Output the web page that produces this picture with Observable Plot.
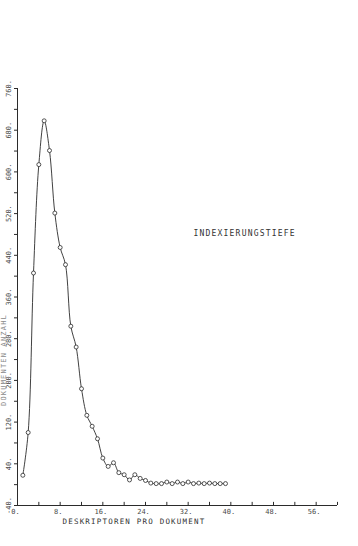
<!DOCTYPE html>
<html>
<head>
<meta charset="utf-8">
<script src="https://cdn.jsdelivr.net/npm/d3@7"></script>
<script src="https://cdn.jsdelivr.net/npm/@observablehq/plot@0.6"></script>
<style>
  html, body { margin: 0; padding: 0; background: #fff; }
  #chart svg { display: block; }
</style>
</head>
<body>
<div id="chart"></div>
<script>
// Deskriptoren pro Dokument (x) and Dokumenten-Anzahl (y)
const descriptors = d3.range(1, 40);
const documents = [18, 100, 406, 614, 698, 641, 521, 455, 422, 304,
                   264, 184, 133, 112, 88, 51, 35, 42, 23, 19,
                   9, 19, 12, 8, 3, 2, 2, 5, 2, 5,
                   2, 5, 2, 3, 2, 3, 2, 2, 2];
const xTickLabels = [0, 8, 16, 24, 32, 40, 48, 56];
const xTicksAll = d3.range(0, 61, 4);
const yTickLabels = [-40, 40, 120, 200, 280, 360, 440, 520, 600, 680, 760];
const yTicksAll = d3.range(-40, 761, 40);

const data = descriptors.map((d, i) => ({x: d, y: documents[i]}));
const ink = "#2b2b2b";
const textInk = "#4a4a4a";
const mono = "'DejaVu Sans Mono', 'Liberation Mono', monospace";

const chart = Plot.plot({
  width: 358,
  height: 546,
  marginLeft: 17,
  marginRight: 21,
  marginTop: 88,
  marginBottom: 41,
  style: {background: "#fff", fontFamily: mono},
  x: {domain: [0, 60], axis: null},
  y: {domain: [-40, 760], axis: null},
  marks: [
    // axis lines
    Plot.ruleX([0], {y1: -40, y2: 760, stroke: ink, strokeWidth: 1}),
    Plot.ruleY([-40], {x1: 0, x2: 60, stroke: ink, strokeWidth: 1}),
    // y ticks (outside, left)
    Plot.axisY({ticks: yTicksAll, tickSize: 3, tickFormat: () => "", label: null, stroke: ink, anchor: "left"}),
    // x ticks (inside, upward)
    Plot.ruleX(xTicksAll, {x: d => d, y1: -40, y2: -34, stroke: ink}),
    // y tick labels, rotated
    Plot.text(yTickLabels, {
      x: 0, y: d => d, text: d => d + ".", rotate: -90, dx: -9,
      textAnchor: "middle", fontSize: 7, fill: textInk, fontFamily: mono
    }),
    // x tick labels
    Plot.text(xTickLabels, {
      x: d => d, y: -40, text: d => d + ".", dy: 6, dx: -2,
      textAnchor: "middle", fontSize: 7, fill: textInk, fontFamily: mono
    }),
    // curve and markers
    Plot.line(data, {x: "x", y: "y", curve: "catmull-rom", stroke: ink, strokeWidth: 0.9}),
    Plot.dot(data, {x: "x", y: "y", r: 2, stroke: ink, fill: "#fff", strokeWidth: 0.8}),
    // annotation
    Plot.text(["INDEXIERUNGSTIEFE"], {
      frameAnchor: "top-left", dx: 176, dy: 142, text: d => d,
      textAnchor: "start", fontSize: 8, fill: "#333", fontFamily: mono
    }),
    // x axis title
    Plot.text(["DESKRIPTOREN PRO DOKUMENT"], {
      frameAnchor: "bottom-left", dx: 45, dy: 18, text: d => d,
      textAnchor: "start", fontSize: 7.5, fill: "#333", fontFamily: mono
    }),
    // y axis title (faint, at the left edge)
    Plot.text(["DOKUMENTEN ANZAHL"], {
      frameAnchor: "left", dx: -14, dy: 63, text: d => d, rotate: -90,
      textAnchor: "middle", fontSize: 7, fill: "#8a8a8a", fontFamily: mono
    })
  ]
});
document.getElementById("chart").append(chart);
// letter spacing for the typed labels
chart.querySelectorAll("text").forEach(t => {
  if (/^(INDEX|DESKR|DOKUM)/.test(t.textContent)) t.setAttribute("letter-spacing", "1.2");
});
</script>
</body>
</html>
